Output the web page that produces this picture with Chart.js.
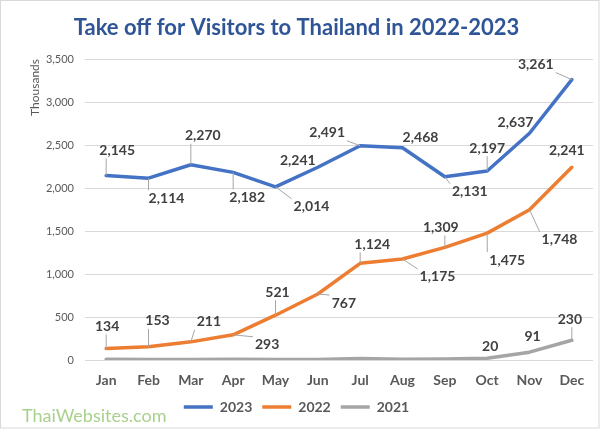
<!DOCTYPE html>
<html>
<head>
<meta charset="utf-8">
<script src="https://cdn.jsdelivr.net/npm/chart.js@4.4.1/dist/chart.umd.min.js"></script>
<style>
html,body{margin:0;padding:0;background:#fff;}
#wrap{width:600px;height:430px;}
</style>
</head>
<body>
<div id="wrap"><canvas id="c" width="600" height="430"></canvas></div>
<script>
const months = ['Jan','Feb','Mar','Apr','May','Jun','Jul','Aug','Sep','Oct','Nov','Dec'];
const seriesNames = ['2023','2022','2021'];
const visitors2023 = [2145,2114,2270,2182,2014,2241,2491,2468,2131,2197,2637,3261];
const visitors2022 = [134,153,211,293,521,767,1124,1175,1309,1475,1748,2241];
const visitors2021 = [8,7,7,8,6,5,18,10,12,20,91,230];
const yTicks = [0,500,1000,1500,2000,2500,3000,3500];

// label placement relative to the point: [dx, dy, leader]
const labelPos2023 = [[11,-25,1],[18,20,1],[12,-29,1],[14,25,1],[36,20,1],[-20,-7,0],[-33,-13,1],[18,-10,0],[25,15,1],[0,-23,1],[-14,-11,0],[-36,-15,1]];
const labelPos2022 = [[1,-22,1],[9,-26,1],[18,-20,1],[34,10,1],[2,-23,1],[26,9,1],[12,-19,1],[35,18,1],[-4,-20,1],[20,27,1],[30,30,1],[-5,-17,0]];
const labelPos2021 = [null,null,null,null,null,null,null,null,null,[3,-12,0],[3,-16,0],[-2,-21,1]];
const labelPositions = [labelPos2023, labelPos2022, labelPos2021];

const FONT = 'Lato';

const framePlugin = {
  id: 'frame',
  beforeDraw(chart) {
    const ctx = chart.ctx;
    ctx.save();
    ctx.fillStyle = '#ffffff';
    ctx.fillRect(0, 0, chart.width, chart.height);
    ctx.restore();
  },
  afterDraw(chart) {
    const ctx = chart.ctx;
    ctx.save();
    ctx.strokeStyle = '#D9D9D9';
    ctx.lineWidth = 1;
    ctx.strokeRect(0.5, 0.5, chart.width - 1.5, chart.height - 2.5);
    ctx.font = '18px ' + FONT;
    ctx.fillStyle = '#A9D18E';
    ctx.textAlign = 'left';
    ctx.textBaseline = 'middle';
    ctx.fillText('ThaiWebsites.com', 22, 416);
    ctx.restore();
  }
};

const labelPlugin = {
  id: 'pointLabels',
  afterDatasetsDraw(chart) {
    const ctx = chart.ctx;
    ctx.save();
    ctx.font = 'bold 14px ' + FONT;
    ctx.textAlign = 'center';
    ctx.textBaseline = 'middle';
    chart.data.datasets.forEach((ds, di) => {
      const meta = chart.getDatasetMeta(di);
      const pos = labelPositions[di];
      meta.data.forEach((pt, i) => {
        const p = pos[i];
        if (!p) return;
        const txt = ds.data[i].toLocaleString('en-US');
        const cx = pt.x + p[0], cy = pt.y + p[1];
        const hw = ctx.measureText(txt).width / 2 + 2, hh = 8;
        if (p[2]) {
          const tx = Math.min(Math.max(pt.x, cx - hw), cx + hw);
          const ty = Math.min(Math.max(pt.y, cy - hh), cy + hh);
          ctx.strokeStyle = '#A6A6A6';
          ctx.lineWidth = 1;
          ctx.beginPath();
          ctx.moveTo(pt.x, pt.y);
          ctx.lineTo(tx, ty);
          ctx.stroke();
        }
        ctx.fillStyle = '#404040';
        ctx.fillText(txt, cx, cy);
      });
    });
    ctx.restore();
  }
};

const colors = ['#4472C4', '#ED7D31', '#A5A5A5'];
const seriesValues = [visitors2023, visitors2022, visitors2021];

new Chart(document.getElementById('c'), {
  type: 'line',
  data: {
    labels: months,
    datasets: seriesNames.map((n, k) => ({
      label: n,
      data: seriesValues[k],
      borderColor: colors[k],
      backgroundColor: colors[k],
      borderWidth: 3.5,
      pointRadius: 0,
      pointHoverRadius: 0,
      tension: 0,
      borderJoinStyle: 'round',
      borderCapStyle: 'round',
      fill: false
    }))
  },
  options: {
    responsive: false,
    animation: false,
    devicePixelRatio: 1,
    layout: { padding: { left: 0, right: 7, top: 0, bottom: 6 } },
    plugins: {
      title: {
        display: true,
        text: 'Take off for Visitors to Thailand in 2022-2023',
        color: '#2F5597',
        font: { family: FONT, size: 22, weight: 'bold', lineHeight: 1.2 },
        padding: { top: 15, bottom: 17.6 }
      },
      legend: {
        display: true,
        position: 'bottom',
        labels: {
          usePointStyle: true,
          pointStyle: 'line',
          pointStyleWidth: 29,
          boxWidth: 29,
          padding: 10,
          color: '#595959',
          font: { family: FONT, size: 14, weight: 'bold' }
        }
      },
      tooltip: { enabled: false }
    },
    scales: {
      x: {
        offset: true,
        grid: { display: false, drawTicks: false },
        border: { display: false },
        ticks: {
          color: '#595959',
          padding: 12,
          font: { family: FONT, size: 14, weight: 'bold' }
        },
        afterFit(scale) { scale.height = 30; }
      },
      y: {
        min: 0,
        max: 3500,
        afterBuildTicks(scale) { scale.ticks = yTicks.map(v => ({ value: v })); },
        grid: { color: '#D9D9D9', lineWidth: 1, drawTicks: false },
        border: { display: false },
        ticks: {
          color: '#595959',
          padding: 11,
          font: { family: FONT, size: 11 },
          callback: v => v.toLocaleString('en-US')
        },
        title: {
          display: true,
          text: 'Thousands',
          align: 'end',
          color: '#595959',
          font: { family: FONT, size: 12 },
          padding: { top: 28 }
        },
        afterFit(scale) { scale.width = 85; }
      }
    }
  },
  plugins: [framePlugin, labelPlugin]
});
</script>
</body>
</html>
